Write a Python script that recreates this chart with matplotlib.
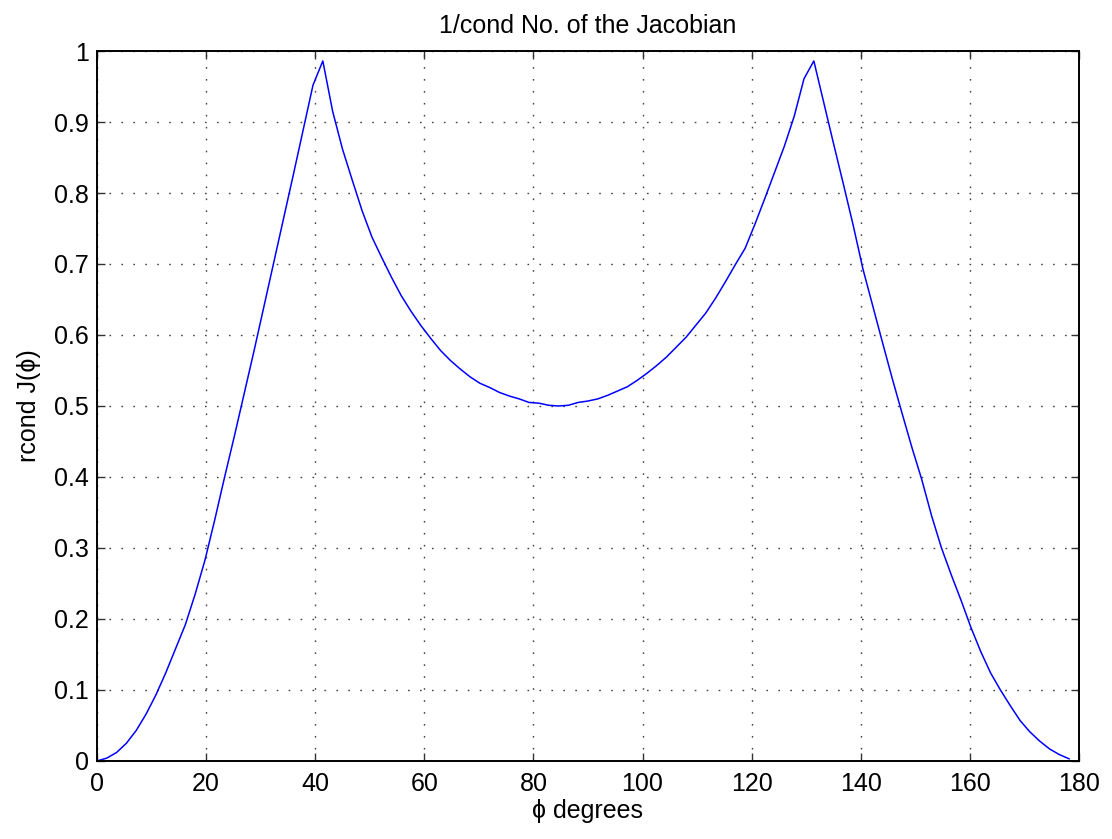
import matplotlib
matplotlib.use("Agg")
import matplotlib.pyplot as plt
import numpy as np

# sample angles (deg), one every 1.8 degrees
phi = np.arange(0, 180, 1.8)

# reciprocal condition number
rcond = [0.000, 0.004, 0.012, 0.025, 0.043, 0.066, 0.093, 0.124, 0.158, 0.192,
         0.235, 0.283, 0.340, 0.400, 0.458, 0.518, 0.578, 0.640, 0.702, 0.764,
         0.826, 0.889, 0.952, 0.986, 0.915, 0.862, 0.818, 0.775, 0.738, 0.709,
         0.681, 0.655, 0.633, 0.613, 0.595, 0.578, 0.564, 0.552, 0.541, 0.532,
         0.526, 0.519, 0.514, 0.510, 0.505, 0.504, 0.501, 0.500, 0.501, 0.505,
         0.507, 0.510, 0.515, 0.521, 0.527, 0.536, 0.546, 0.557, 0.569, 0.583,
         0.597, 0.614, 0.631, 0.652, 0.675, 0.699, 0.722, 0.756, 0.792, 0.829,
         0.866, 0.908, 0.961, 0.986, 0.928, 0.870, 0.813, 0.755, 0.693, 0.641,
         0.589, 0.538, 0.489, 0.441, 0.396, 0.345, 0.300, 0.262, 0.226, 0.188,
         0.154, 0.124, 0.100, 0.078, 0.057, 0.041, 0.028, 0.017, 0.009, 0.003]

xticks = [0, 20, 40, 60, 80, 100, 120, 140, 160, 180]
yticks = [0, 0.1, 0.2, 0.3, 0.4, 0.5, 0.6, 0.7, 0.8, 0.9, 1]
ytick_labels = ['0', '0.1', '0.2', '0.3', '0.4', '0.5', '0.6', '0.7', '0.8', '0.9', '1']

plt.rcParams['font.family'] = ['Liberation Sans', 'DejaVu Sans']
fs = 18

fig = plt.figure(figsize=(11.12, 8.39), dpi=100)
ax = fig.add_axes([0.0872, 0.093, 0.8831, 0.8462])

ax.plot(phi, rcond, color='#0000ff', lw=1.1)

ax.set_xlim(0, 180)
ax.set_ylim(0, 1)
ax.set_xticks(xticks)
ax.set_yticks(yticks)
ax.set_yticklabels(ytick_labels)
ax.tick_params(direction='in', length=6, width=1.0, color='#333333',
               top=True, right=True, labelsize=fs)
ax.tick_params(axis='x', pad=8)
ax.tick_params(axis='y', pad=6)
ax.grid(True, color='#444444', linestyle=(0, (1.2, 7.4)), lw=1.0)
for s in ax.spines.values():
    s.set_linewidth(1.4)
    s.set_color('black')

ax.set_title('1/cond No. of the Jacobian', fontsize=fs, pad=13)
ax.set_xlabel('\u03d5 degrees', fontsize=fs, labelpad=2)
ax.set_ylabel('rcond J(\u03d5)', fontsize=fs, labelpad=9)

fig.savefig('out.png', dpi=100)
